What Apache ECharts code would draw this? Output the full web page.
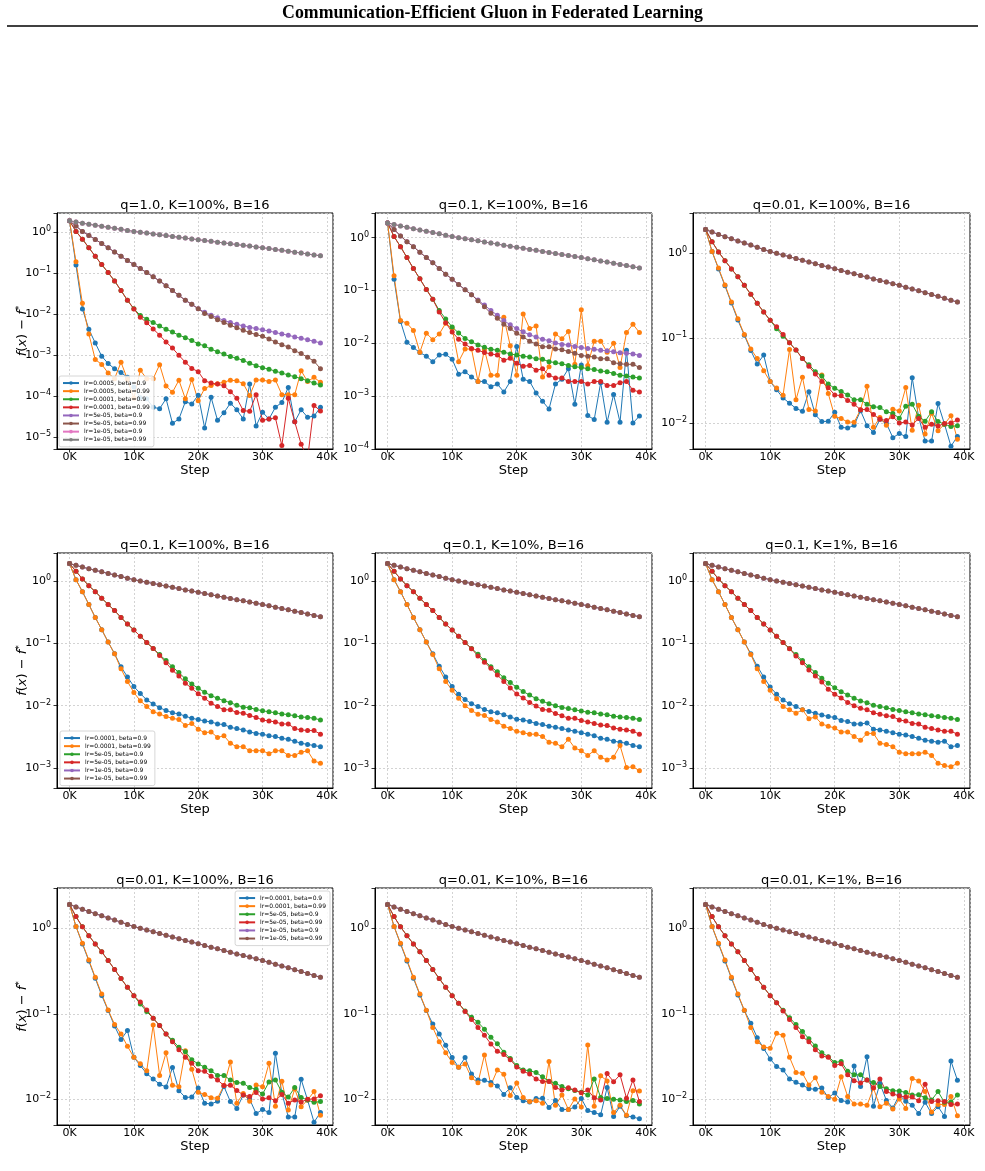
<!DOCTYPE html>
<html><head><meta charset="utf-8">
<script src="https://cdn.jsdelivr.net/npm/echarts@6/dist/echarts.min.js"></script>
<style>html,body{margin:0;padding:0;background:#fff}#c{width:985px;height:1171px}</style>
</head><body><div id="c"></div>
<script>
// ---------- DATA ----------
const steps = [0,1000,2000,3000,4000,5000,6000,7000,8000,9000,10000,11000,12000,13000,14000,15000,16000,17000,18000,19000,20000,21000,22000,23000,24000,25000,26000,27000,28000,29000,30000,31000,32000,33000,34000,35000,36000,37000,38000,39000];
const xTickLabels = ['0K','10K','20K','30K','40K'];
const NAMES8 = ['lr=0.0005, beta=0.9','lr=0.0005, beta=0.99','lr=0.0001, beta=0.9','lr=0.0001, beta=0.99','lr=5e-05, beta=0.9','lr=5e-05, beta=0.99','lr=1e-05, beta=0.9','lr=1e-05, beta=0.99'];
const NAMES6 = ['lr=0.0001, beta=0.9','lr=0.0001, beta=0.99','lr=5e-05, beta=0.9','lr=5e-05, beta=0.99','lr=1e-05, beta=0.9','lr=1e-05, beta=0.99'];

// lr=1e-05 (both betas, all settings)
const S_lr1e5 = [1.90,1.78,1.67,1.57,1.48,1.40,1.32,1.25,1.18,1.11,1.05,1.00,0.955,0.91,0.87,0.83,0.79,0.755,0.72,0.69,0.66,0.63,0.60,0.575,0.55,0.525,0.50,0.48,0.46,0.44,0.42,0.40,0.38,0.362,0.345,0.328,0.312,0.296,0.281,0.267];

// q=1.0, K=100%
const A_lr5e4_b09 = [1.9,0.16,0.0135,0.0043,0.0020,0.00095,0.00063,0.00047,0.00038,0.00029,0.00017,0.000093,0.000087,0.000054,0.00005,0.000087,0.000022,0.000028,0.000074,0.000065,0.000107,0.000017,0.000095,0.000026,0.00004,0.000068,0.000047,0.000028,0.0002,0.000019,0.000041,0.000028,0.000054,0.000071,0.000165,0.000024,0.000047,0.000031,0.000033,0.000054];
const A_lr5e4_b099 = [1.9,0.19,0.0185,0.0033,0.00079,0.0006,0.00037,0.00027,0.00068,0.00026,0.00009,0.00043,0.00027,0.00027,0.00059,0.000178,0.000126,0.000247,0.000087,0.000257,0.000078,0.000155,0.000183,0.000204,0.000222,0.000247,0.00024,0.000204,0.000105,0.00025,0.00025,0.00023,0.00025,0.00011,0.00011,0.00011,0.00042,0.00023,0.00029,0.00022];
const A_lr1e4_b09 = [1.9,1.05,0.68,0.42,0.26,0.163,0.104,0.065,0.038,0.022,0.0137,0.0094,0.0076,0.0063,0.0052,0.0043,0.0037,0.0031,0.0027,0.0023,0.0019,0.0017,0.0014,0.00122,0.00107,0.00093,0.00085,0.00075,0.00064,0.00056,0.0005,0.00046,0.00041,0.00037,0.00033,0.0003,0.00027,0.00024,0.00021,0.00019];
const A_lr1e4_b099 = [1.9,1.05,0.68,0.42,0.26,0.163,0.104,0.065,0.038,0.022,0.0135,0.0085,0.0062,0.0044,0.0031,0.0021,0.0015,0.001,0.00068,0.00048,0.0004,0.00024,0.00021,0.0002,0.00018,0.00013,0.00009,0.000045,0.000043,0.00011,0.000026,0.000028,0.00003,0.0000063,0.00009,0.000024,0.0000068,0.000003,0.00006,0.000044];
const A_lr5e5_b09 = [1.9,1.42,1.05,0.84,0.67,0.53,0.42,0.33,0.26,0.205,0.163,0.13,0.104,0.082,0.065,0.05,0.038,0.029,0.022,0.0175,0.0137,0.0112,0.0095,0.0082,0.0071,0.0063,0.0057,0.0052,0.0048,0.0045,0.0042,0.0039,0.0036,0.0033,0.0031,0.0028,0.0026,0.0024,0.0022,0.002];
const A_lr5e5_b099 = [1.9,1.42,1.05,0.84,0.67,0.53,0.42,0.33,0.26,0.205,0.163,0.13,0.104,0.082,0.065,0.05,0.038,0.029,0.022,0.0175,0.0137,0.0105,0.0088,0.0074,0.0063,0.0054,0.0047,0.0041,0.0036,0.0032,0.0029,0.0025,0.0021,0.0018,0.0016,0.0013,0.0011,0.0009,0.00072,0.00047];

// q=0.1, K=100%
const B_lr5e4_b09 = [1.9,0.163,0.026,0.0105,0.0083,0.0067,0.0057,0.0045,0.006,0.0062,0.005,0.0026,0.0029,0.0023,0.0019,0.0019,0.0015,0.0017,0.0012,0.0019,0.0087,0.0021,0.0019,0.00115,0.0008,0.00057,0.0017,0.0021,0.0033,0.0007,0.0039,0.00043,0.00036,0.0018,0.00032,0.00107,0.00032,0.0074,0.00031,0.00042];
const B_lr5e4_b099 = [1.9,0.19,0.027,0.024,0.0175,0.0068,0.0156,0.0117,0.015,0.024,0.019,0.0045,0.0078,0.0078,0.0019,0.0076,0.0025,0.0025,0.031,0.009,0.0025,0.036,0.019,0.0214,0.0023,0.0036,0.0151,0.0122,0.0167,0.004,0.043,0.0038,0.011,0.011,0.0068,0.01,0.0035,0.016,0.023,0.016];
const B_lr1e4_b09 = [1.9,1.05,0.675,0.42,0.26,0.166,0.105,0.068,0.042,0.029,0.0203,0.0157,0.0124,0.0107,0.0093,0.0084,0.0077,0.0074,0.0068,0.0063,0.006,0.0057,0.0055,0.0051,0.005,0.0045,0.0043,0.0041,0.0038,0.0036,0.0035,0.0033,0.0032,0.003,0.0029,0.0027,0.0025,0.0024,0.0023,0.0022];
const B_lr1e4_b099 = [1.9,1.05,0.675,0.42,0.26,0.166,0.105,0.068,0.039,0.0245,0.0163,0.012,0.0097,0.008,0.0074,0.0067,0.0063,0.006,0.0048,0.0052,0.0042,0.0037,0.0038,0.0031,0.0033,0.0025,0.0022,0.0022,0.0019,0.0019,0.0019,0.0017,0.0019,0.0019,0.0016,0.0016,0.0018,0.0019,0.0013,0.0012];
const B_lr5e5_b09 = [1.9,1.43,1.08,0.84,0.675,0.53,0.42,0.335,0.26,0.204,0.164,0.13,0.103,0.083,0.066,0.053,0.042,0.034,0.027,0.0224,0.019,0.0165,0.0145,0.0132,0.012,0.0112,0.0102,0.0095,0.0093,0.0087,0.0083,0.008,0.0077,0.0074,0.0072,0.0069,0.0066,0.0065,0.0063,0.0059];
const B_lr5e5_b099 = [1.9,1.43,1.08,0.84,0.675,0.53,0.42,0.335,0.26,0.204,0.164,0.13,0.103,0.083,0.064,0.049,0.037,0.030,0.023,0.019,0.0155,0.0132,0.011,0.0097,0.0086,0.0086,0.0078,0.0076,0.007,0.0065,0.0059,0.0057,0.0055,0.0051,0.0051,0.0043,0.0041,0.004,0.004,0.0035];

// q=0.01, K=100%
const C_lr1e4_b09 = [1.9,1.05,0.656,0.415,0.26,0.164,0.109,0.072,0.05,0.0636,0.031,0.0248,0.0199,0.0173,0.015,0.0139,0.0235,0.0126,0.0105,0.0106,0.0135,0.009,0.0088,0.0095,0.0141,0.0094,0.0078,0.0112,0.010,0.0068,0.0076,0.007,0.0345,0.0118,0.0062,0.0062,0.0171,0.0098,0.0054,0.007];
const C_lr1e4_b099 = [1.9,1.05,0.67,0.425,0.267,0.17,0.111,0.075,0.058,0.0417,0.031,0.026,0.0215,0.074,0.019,0.035,0.0146,0.014,0.037,0.0224,0.0121,0.0114,0.0104,0.0103,0.0145,0.0273,0.009,0.0117,0.0095,0.0147,0.014,0.0264,0.0083,0.0163,0.0075,0.0132,0.0082,0.0098,0.0123,0.0065];
const C_lr5e5_b09 = [1.9,1.37,1.04,0.82,0.656,0.53,0.42,0.33,0.258,0.204,0.163,0.13,0.106,0.0886,0.0728,0.058,0.049,0.0406,0.036,0.029,0.0259,0.0237,0.0216,0.019,0.019,0.0168,0.0157,0.0154,0.0137,0.0131,0.0115,0.0159,0.0168,0.0121,0.0106,0.0137,0.0105,0.0098,0.0092,0.0094];
const C_lr5e5_b099 = [1.9,1.37,1.04,0.82,0.656,0.53,0.42,0.33,0.258,0.204,0.163,0.137,0.111,0.0886,0.0728,0.058,0.047,0.038,0.031,0.0263,0.0216,0.0212,0.0186,0.0168,0.0145,0.0146,0.0127,0.0112,0.0108,0.012,0.0101,0.0104,0.0096,0.0114,0.009,0.0098,0.0093,0.010,0.0101,0.011];

// q=0.1, K=10%
const D_lr1e4_b09 = [1.9,1.05,0.675,0.42,0.26,0.166,0.105,0.068,0.043,0.029,0.0203,0.0153,0.0126,0.0108,0.0097,0.0087,0.008,0.0077,0.0072,0.0066,0.0061,0.0059,0.0056,0.0052,0.005,0.0047,0.0045,0.0043,0.0041,0.0039,0.0037,0.0035,0.0033,0.003,0.0029,0.0027,0.0026,0.0025,0.0023,0.0022];
const D_lr1e4_b099 = [1.9,1.05,0.675,0.42,0.26,0.166,0.105,0.066,0.039,0.0245,0.0177,0.0132,0.01,0.0084,0.0073,0.007,0.006,0.0055,0.0047,0.0043,0.0039,0.0037,0.0035,0.0035,0.0032,0.0026,0.0025,0.0022,0.0029,0.0021,0.0019,0.0016,0.0019,0.0015,0.00135,0.0015,0.0023,0.00102,0.00105,0.00091];
const D_lr5e5_b09 = [1.9,1.43,1.08,0.84,0.675,0.53,0.42,0.335,0.26,0.204,0.164,0.13,0.103,0.083,0.067,0.053,0.042,0.035,0.028,0.0236,0.0197,0.0169,0.0148,0.013,0.0118,0.0108,0.01,0.0094,0.009,0.0086,0.0082,0.0079,0.0077,0.0074,0.0072,0.0068,0.0066,0.0065,0.0063,0.006];
const D_lr5e5_b099 = [1.9,1.43,1.08,0.84,0.675,0.53,0.42,0.335,0.26,0.204,0.164,0.13,0.103,0.082,0.063,0.05,0.04,0.031,0.0245,0.0193,0.0154,0.0133,0.0113,0.0099,0.0087,0.0085,0.0075,0.0069,0.0063,0.0063,0.0058,0.0055,0.0052,0.0049,0.0048,0.0044,0.0042,0.0041,0.0039,0.0035];

// q=0.1, K=1%
const E_lr1e4_b09 = [1.9,1.05,0.675,0.42,0.26,0.166,0.105,0.068,0.043,0.029,0.020,0.0153,0.0124,0.0108,0.0097,0.0086,0.0081,0.0076,0.0071,0.0067,0.0065,0.0058,0.0056,0.0051,0.0051,0.0053,0.0042,0.0041,0.0039,0.0037,0.0035,0.0034,0.0032,0.003,0.0028,0.0027,0.0026,0.0027,0.0022,0.0023];
const E_lr1e4_b099 = [1.9,1.05,0.675,0.42,0.26,0.166,0.105,0.066,0.039,0.0245,0.0177,0.013,0.0097,0.0086,0.0076,0.0086,0.0062,0.0066,0.0051,0.0047,0.0044,0.0038,0.0038,0.0032,0.0028,0.0036,0.0036,0.0025,0.0024,0.0022,0.0018,0.0017,0.0017,0.0017,0.0018,0.0016,0.0012,0.0011,0.00105,0.0012];
const E_lr5e5_b09 = [1.9,1.43,1.08,0.84,0.675,0.53,0.42,0.335,0.26,0.204,0.164,0.13,0.103,0.083,0.066,0.053,0.042,0.034,0.0276,0.0229,0.0194,0.0168,0.0149,0.0132,0.0119,0.0112,0.0102,0.0097,0.0093,0.0087,0.0084,0.008,0.0077,0.0074,0.0072,0.0069,0.0067,0.0065,0.0063,0.006];
const E_lr5e5_b099 = [1.9,1.43,1.08,0.84,0.675,0.53,0.42,0.335,0.26,0.204,0.164,0.13,0.103,0.082,0.063,0.049,0.0375,0.030,0.024,0.0184,0.0153,0.0133,0.0113,0.010,0.0091,0.0086,0.0077,0.0073,0.0069,0.0067,0.0059,0.0057,0.0052,0.0051,0.0045,0.0043,0.0041,0.0039,0.0039,0.0035];

// q=0.01, K=10%
const F_lr1e4_b09 = [1.9,1.05,0.656,0.415,0.26,0.166,0.109,0.076,0.058,0.0428,0.0307,0.0237,0.0307,0.0198,0.0168,0.0167,0.0157,0.0143,0.0114,0.0136,0.0105,0.0096,0.0093,0.0102,0.0103,0.008,0.0097,0.0076,0.0076,0.0081,0.0102,0.0074,0.007,0.0066,0.0137,0.0063,0.0083,0.0064,0.0062,0.0059];
const F_lr1e4_b099 = [1.9,1.05,0.67,0.425,0.267,0.17,0.11,0.069,0.047,0.035,0.027,0.0237,0.0259,0.0178,0.0156,0.033,0.0147,0.022,0.0196,0.0111,0.0155,0.0105,0.0094,0.0096,0.009,0.0276,0.0085,0.0112,0.0076,0.0101,0.0081,0.0432,0.0083,0.0188,0.0164,0.007,0.0085,0.0065,0.0126,0.0125];
const F_lr5e5_b09 = [1.9,1.37,1.04,0.82,0.656,0.53,0.42,0.33,0.258,0.204,0.163,0.133,0.108,0.091,0.0795,0.066,0.053,0.0445,0.0355,0.030,0.0248,0.022,0.0216,0.0205,0.0183,0.0163,0.0154,0.0141,0.0133,0.0127,0.0121,0.0112,0.0173,0.0105,0.0102,0.01,0.0098,0.0094,0.0097,0.0088];
const F_lr5e5_b099 = [1.9,1.37,1.04,0.82,0.656,0.53,0.42,0.33,0.258,0.204,0.163,0.133,0.106,0.086,0.069,0.056,0.0444,0.0364,0.0333,0.029,0.0239,0.0212,0.0198,0.0173,0.0161,0.0161,0.0137,0.0128,0.0136,0.0128,0.0119,0.0128,0.0104,0.0098,0.020,0.016,0.0193,0.0103,0.0168,0.0094];

// q=0.01, K=1%
const G_lr1e4_b09 = [1.9,1.05,0.656,0.415,0.26,0.166,0.109,0.0774,0.0526,0.0392,0.0296,0.0241,0.022,0.0173,0.0158,0.0147,0.0133,0.0131,0.0135,0.0105,0.0118,0.0097,0.0093,0.0245,0.0141,0.0315,0.0083,0.0153,0.0097,0.0079,0.0112,0.0095,0.0085,0.0068,0.0092,0.0068,0.0082,0.0063,0.028,0.0167];
const G_lr1e4_b099 = [1.9,1.05,0.67,0.425,0.267,0.17,0.11,0.069,0.047,0.041,0.0395,0.059,0.056,0.031,0.0205,0.0201,0.0147,0.0179,0.0121,0.0108,0.010,0.0184,0.0108,0.0088,0.0088,0.0085,0.0135,0.0082,0.009,0.0077,0.0101,0.0078,0.0175,0.0164,0.0123,0.0071,0.0087,0.0087,0.0108,0.0064];
const G_lr5e5_b09 = [1.9,1.37,1.04,0.82,0.656,0.53,0.42,0.33,0.258,0.204,0.163,0.135,0.11,0.09,0.075,0.062,0.051,0.042,0.035,0.0315,0.027,0.0276,0.0213,0.0193,0.0193,0.0168,0.0157,0.0141,0.0133,0.0126,0.0125,0.012,0.0112,0.0113,0.0104,0.0098,0.0123,0.0092,0.0093,0.0112];
const G_lr5e5_b099 = [1.9,1.37,1.04,0.82,0.656,0.53,0.42,0.33,0.258,0.204,0.163,0.135,0.108,0.086,0.069,0.054,0.047,0.038,0.032,0.031,0.0248,0.026,0.0193,0.0165,0.0155,0.0168,0.0136,0.0173,0.0123,0.0115,0.011,0.0106,0.0106,0.0096,0.015,0.0094,0.0096,0.0094,0.0087,0.0088];

// ---------- LAYOUT / STYLE ----------
const COLORS = ['#1f77b4','#ff7f0e','#2ca02c','#d62728','#9467bd','#8c564b','#e377c2','#7f7f7f'];
const COLS = [[57,276],[375,277],[693,277]];
const ROWS = [[213,236],[553,235],[888,237]];
const FONT = 'DejaVu Sans';

const panels = [
  {title:'q=1.0, K=100%, B=16', r:0, c:0, ymin:5.2e-6, ymax:2.95, names:NAMES8,
   data:[A_lr5e4_b09,A_lr5e4_b099,A_lr1e4_b09,A_lr1e4_b099,A_lr5e5_b09,A_lr5e5_b099,S_lr1e5,S_lr1e5],
   legend:{left:59, top:376}},
  {title:'q=0.1, K=100%, B=16', r:0, c:1, ymin:1e-4, ymax:2.93, names:NAMES8,
   data:[B_lr5e4_b09,B_lr5e4_b099,B_lr1e4_b09,B_lr1e4_b099,B_lr5e5_b09,B_lr5e5_b099,S_lr1e5,S_lr1e5]},
  {title:'q=0.01, K=100%, B=16', r:0, c:2, ymin:5.0e-3, ymax:2.98, names:NAMES6,
   data:[C_lr1e4_b09,C_lr1e4_b099,C_lr5e5_b09,C_lr5e5_b099,S_lr1e5,S_lr1e5]},
  {title:'q=0.1, K=100%, B=16', r:1, c:0, ymin:4.8e-4, ymax:2.81, names:NAMES6,
   data:[B_lr1e4_b09,B_lr1e4_b099,B_lr5e5_b09,B_lr5e5_b099,S_lr1e5,S_lr1e5],
   legend:{left:60, top:731}},
  {title:'q=0.1, K=10%, B=16', r:1, c:1, ymin:4.8e-4, ymax:2.81, names:NAMES6,
   data:[D_lr1e4_b09,D_lr1e4_b099,D_lr5e5_b09,D_lr5e5_b099,S_lr1e5,S_lr1e5]},
  {title:'q=0.1, K=1%, B=16', r:1, c:2, ymin:4.8e-4, ymax:2.81, names:NAMES6,
   data:[E_lr1e4_b09,E_lr1e4_b099,E_lr5e5_b09,E_lr5e5_b099,S_lr1e5,S_lr1e5]},
  {title:'q=0.01, K=100%, B=16', r:2, c:0, ymin:5.0e-3, ymax:2.96, names:NAMES6,
   data:[C_lr1e4_b09,C_lr1e4_b099,C_lr5e5_b09,C_lr5e5_b099,S_lr1e5,S_lr1e5],
   legend:{right:655, top:891}},
  {title:'q=0.01, K=10%, B=16', r:2, c:1, ymin:5.0e-3, ymax:2.96, names:NAMES6,
   data:[F_lr1e4_b09,F_lr1e4_b099,F_lr5e5_b09,F_lr5e5_b099,S_lr1e5,S_lr1e5]},
  {title:'q=0.01, K=1%, B=16', r:2, c:2, ymin:5.0e-3, ymax:2.96, names:NAMES6,
   data:[G_lr1e4_b09,G_lr1e4_b099,G_lr5e5_b09,G_lr5e5_b099,S_lr1e5,S_lr1e5]}
];

function yFmt(v){
  const e = Math.log10(v);
  if (Math.abs(e - Math.round(e)) > 1e-6) return '';
  const n = Math.round(e);
  return '{b|10}{s|' + (n < 0 ? '−' + (-n) : String(n)) + '}';
}
function xFmt(v){
  if (Math.abs(v % 10000) > 1e-6) return '';
  const i = Math.round(v / 10000);
  return xTickLabels[i] || '';
}

const grid = [], xAxis = [], yAxis = [], series = [], legend = [];
const title = [{
  text:'Communication-Efficient Gluon in Federated Learning', left:'center', top:4, padding:0,
  textStyle:{fontFamily:'Liberation Serif', fontWeight:'bold', fontSize:17.8, color:'#000'}
}];
const graphic = [{type:'line', shape:{x1:7, y1:26, x2:978, y2:26}, style:{stroke:'#000', lineWidth:1.5}}];

panels.forEach((p, i) => {
  const [gl, gw] = COLS[p.c], [gt, gh] = ROWS[p.r];
  grid.push({left:gl, top:gt, width:gw, height:gh, show:true, borderColor:'#000', borderWidth:1, backgroundColor:'transparent', containLabel:false});
  title.push({text:p.title, left:gl + gw/2, top:gt - 14, padding:0, textAlign:'center',
    textStyle:{fontFamily:FONT, fontWeight:'normal', fontSize:13, color:'#000'}});
  xAxis.push({type:'value', gridIndex:i, min:-1950, max:40950,
    name:'Step', nameLocation:'middle', nameGap:15,
    nameTextStyle:{fontFamily:FONT, fontSize:13, color:'#000'},
    axisLine:{show:true, onZero:false, lineStyle:{color:'#000', width:1}},
    axisTick:{show:true, length:3.5, lineStyle:{color:'#000', width:0.8}},
    axisLabel:{formatter:xFmt, fontFamily:FONT, fontSize:11, color:'#000', margin:3, showMinLabel:false, showMaxLabel:false},
    splitLine:{show:true, lineStyle:{color:'#c8c8c8', width:0.8, type:[2,2]}}
  });
  const ya = {type:'log', logBase:10, gridIndex:i, min:p.ymin, max:p.ymax,
    axisLine:{show:true, onZero:false, lineStyle:{color:'#000', width:1}},
    axisTick:{show:true, length:3.5, lineStyle:{color:'#000', width:0.8}},
    axisLabel:{formatter:yFmt, margin:6, color:'#000',
      rich:{b:{fontFamily:FONT, fontSize:11, lineHeight:14, color:'#000'},
            s:{fontFamily:FONT, fontSize:8, lineHeight:9, verticalAlign:'top', color:'#000'}}},
    splitLine:{show:true, lineStyle:{color:'#c8c8c8', width:0.8, type:[2,2]}}
  };
  if (p.c === 0) {
    ya.name = '{i|f}{n|(}{i|x}{n|) − }{i|f}{s|*}';
    ya.nameLocation = 'middle';
    ya.nameGap = 26;
    ya.nameMoveOverlap = false;
    ya.nameRotate = 90;
    ya.nameTextStyle = {color:'#000', rich:{
      i:{fontFamily:FONT, fontStyle:'italic', fontSize:13, lineHeight:16, color:'#000'},
      n:{fontFamily:FONT, fontSize:13, lineHeight:16, color:'#000'},
      s:{fontFamily:FONT, fontSize:9, lineHeight:10, verticalAlign:'top', color:'#000'}}};
  }
  yAxis.push(ya);
  const snames = [];
  p.data.forEach((vals, k) => {
    const nm = 'p' + i + '|' + p.names[k];
    snames.push(nm);
    series.push({type:'line', name:nm, xAxisIndex:i, yAxisIndex:i,
      data: steps.map((s, j) => [s, vals[j]]),
      symbol:'circle', symbolSize:5, showSymbol:true, showAllSymbol:true,
      lineStyle:{width:1, color:COLORS[k]}, itemStyle:{color:COLORS[k]},
      emphasis:{disabled:true}, silent:true, animation:false, clip:true});
  });
  if (p.legend) {
    legend.push(Object.assign({
      orient:'vertical', data:snames, selectedMode:false,
      padding:[3,4,3,3], itemWidth:16, itemHeight:4.5, itemGap:0,
      formatter: n => n.split('|')[1],
      textStyle:{fontFamily:FONT, fontSize:6, lineHeight:8.1, color:'#000'},
      backgroundColor:'rgba(255,255,255,0.85)', borderColor:'#cccccc', borderWidth:0.8, borderRadius:2
    }, p.legend));
  }
});

const chart = echarts.init(document.getElementById('c'), null, {renderer:'canvas'});
chart.setOption({
  animation:false, backgroundColor:'#fff',
  title, grid, xAxis, yAxis, series, legend, graphic
});
</script>
</body></html>
